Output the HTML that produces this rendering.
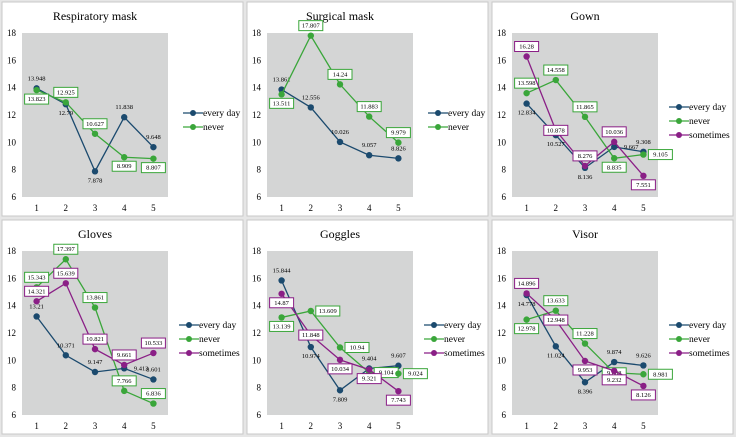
<!DOCTYPE html>
<html><head><meta charset="utf-8">
<style>
body{margin:0;background:#e6e6e6;}
svg{display:block;font-family:"Liberation Serif",serif;}
</style></head>
<body>
<svg id="c" width="736" height="437"></svg>
<script>
const categories=[1,2,3,4,5];
const yTicks=[6,8,10,12,14,16,18];
const seriesNames=["every day","never","sometimes"];
const seriesColors=["#1b4a6e","#3aa63a","#8a1f86"];
const titles=["Respiratory mask","Surgical mask","Gown","Gloves","Goggles","Visor"];
const p1Every=[13.948,12.79,7.878,11.838,9.648];
const p1Never=[13.823,12.925,10.627,8.909,8.807];
const p2Every=[13.861,12.556,10.026,9.057,8.826];
const p2Never=[13.511,17.807,14.24,11.883,9.979];
const p3Every=[12.834,10.527,8.136,9.667,9.308];
const p3Never=[13.598,14.558,11.865,8.835,9.105];
const p3Some=[16.28,10.878,8.276,10.036,7.551];
const p4Every=[13.21,10.371,9.147,9.413,8.601];
const p4Never=[15.343,17.397,13.861,7.766,6.836];
const p4Some=[14.321,15.639,10.821,9.661,10.533];
const p5Every=[15.844,10.974,7.809,9.404,9.607];
const p5Never=[13.139,13.609,10.94,9.104,9.024];
const p5Some=[14.87,11.848,10.034,9.321,7.743];
const p6Every=[14.778,11.024,8.396,9.874,9.626];
const p6Never=[12.978,13.633,11.228,9.088,8.981];
const p6Some=[14.896,12.948,9.953,9.232,8.126];
// label placement codes: a=above b=below r=right c=center
const panels=[
 {s:[p1Every,p1Never],l:[["a","b","b","a","a"],["b","a","a","b","b"]]},
 {s:[p2Every,p2Never],l:[["a","a","a","a","a"],["b","a","a","a","a"]]},
 {s:[p3Every,p3Never,p3Some],l:[["b","b","b","r","a"],["a","a","a","b","r"],["a","c","a","a","b"]]},
 {s:[p4Every,p4Never,p4Some],l:[["a","a","a","r","a"],["a","a","a","a","a"],["a","a","a","a","a"]]},
 {s:[p5Every,p5Never,p5Some],l:[["a","b","b","a","a"],["b","r","r","r","r"],["b","c","b","b","b"]]},
 {s:[p6Every,p6Never,p6Some],l:[["b","b","b","a","a"],["b","a","a","c","r"],["a","c","b","b","b"]]}
];
const NS="http://www.w3.org/2000/svg";
const svg=document.getElementById("c");
function mk(tag,attrs,parent){const e=document.createElementNS(NS,tag);for(const k in attrs)e.setAttribute(k,attrs[k]);(parent||svg).appendChild(e);return e;}
const offs=[[0,0],[245,0],[490,0],[0,218],[245,218],[490,218]];
panels.forEach((p,pi)=>{
 const ox=offs[pi][0],oy=offs[pi][1];
 const g=mk("g",{});
 
 
 const bg=mk("rect",{x:ox+2,y:oy+2,width:241,height:214,fill:"#fff",stroke:"#c8c8c8"},g);
 
 
 const px=ox+22,py=oy+33,pw=146,ph=164;
 const X=i=>px+pw/5*(i+0.5);
 const Y=v=>py+ph*(18-v)/12;
 const pa=mk("rect",{x:px,y:py,width:pw,height:ph,fill:"#d4d5d5"},g);
 
 
 const t=mk("text",{x:ox+95,y:oy+20,"text-anchor":"middle","font-size":"12"},g);
 t.textContent=titles[pi];
 
 
 yTicks.forEach(v=>{const e=mk("text",{x:px-6,y:Y(v)+3,"text-anchor":"end","font-size":"9"},g);e.textContent=v;
  
  });
 categories.forEach((c,i)=>{const e=mk("text",{x:X(i),y:py+ph+14,"text-anchor":"middle","font-size":"9"},g);e.textContent=c;
  
  });
 p.s.forEach((vals,si)=>{
  const col=seriesColors[si];
  const pl=mk("polyline",{points:vals.map((v,i)=>X(i)+","+Y(v)).join(" "),fill:"none",stroke:col,"stroke-width":1.3},g);
  
  
  vals.forEach((v,i)=>{
   const c=mk("circle",{cx:X(i),cy:Y(v),r:3.2,fill:col},g);
   
   
   const code=p.l[si][i];
   let lx=X(i),ly=Y(v);
   if(code==="a")ly-=8;else if(code==="b")ly+=11;else if(code==="r"){lx+=17;ly+=2;}else ly+=2;
   if(si>0){
    const b=mk("rect",{x:lx-12,y:ly-7,width:24,height:10,fill:"#fff",stroke:col,"stroke-width":1},g);
    
    
   }
   const tx=mk("text",{x:lx,y:ly,"text-anchor":"middle","font-size":"6.5"},g);
   tx.textContent=v;
   
   
  });
  const ly=oy+113+si*14-(p.s.length===3?6:0);
  const lx0=ox+(p.s.length===3?179:183);
  const ll=mk("line",{x1:lx0,y1:ly,x2:lx0+20,y2:ly,stroke:col,"stroke-width":1.3},g);
  
  
  mk("circle",{cx:lx0+10,cy:ly,r:3,fill:col},g);
  const lt=mk("text",{x:lx0+20,y:ly+3,"font-size":"9.5"},g);
  lt.textContent=seriesNames[si];
  
  
 });
});
</script>
</body></html>
